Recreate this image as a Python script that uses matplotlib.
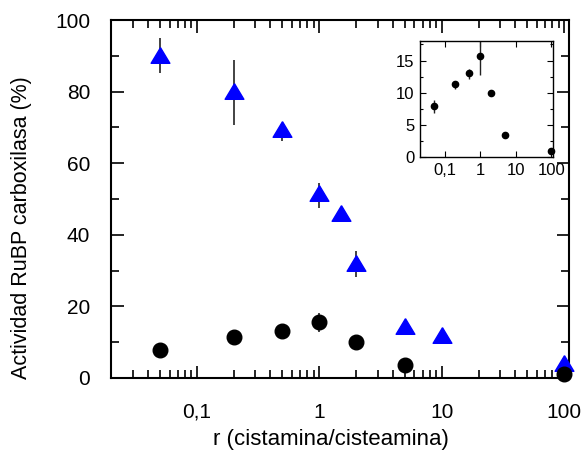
import numpy as np
import matplotlib
matplotlib.use("Agg")
import matplotlib.pyplot as plt
from matplotlib.ticker import FixedLocator, FixedFormatter, LogLocator, NullFormatter, MultipleLocator

# relación cistamina/cisteamina
r_tri = [0.05, 0.2, 0.5, 1, 1.5, 2, 5, 10, 100]
act_tri = [90.2, 80.2, 69.5, 51.6, 46.0, 32.0, 14.5, 12.0, 4.1]
err_tri_lo = [5.1, 9.5, 3.2, 4.2, 0.0, 3.9, 2.1, 0.0, 0.0]
err_tri_hi = [4.7, 8.6, 0.0, 3.0, 0.0, 3.5, 0.0, 0.0, 0.0]

r_circ = [0.05, 0.2, 0.5, 1, 2, 5, 100]
act_circ = [7.9, 11.3, 13.0, 15.7, 10.0, 3.5, 1.0]
err_circ_lo = [1.1, 0.7, 0.9, 2.9, 0.0, 0.0, 0.0]
err_circ_hi = [0.9, 0.0, 0.7, 2.3, 0.0, 0.0, 0.0]

xticks = [0.1, 1, 10, 100]
xticklabels = ["0,1", "1", "10", "100"]

plt.rcParams['font.family'] = ['Liberation Sans', 'DejaVu Sans']

# triángulo algo más ancho que alto
tri = [(0, 1), (-1.2, -1), (1.2, -1), (0, 1)]

fig = plt.figure(figsize=(5.88, 4.58), dpi=100)
ax = fig.add_axes([0.189, 0.175, 0.779, 0.781])

ax.errorbar(r_tri, act_tri, yerr=[err_tri_lo, err_tri_hi], fmt='none',
            ecolor='#222222', elinewidth=1.2, capsize=0, zorder=2)
ax.plot(r_tri, act_tri, linestyle='none', marker=tri, color='#0000ff',
        ms=13.5, mec='#0000ff', zorder=3, clip_on=False)
ax.errorbar(r_circ, act_circ, yerr=[err_circ_lo, err_circ_hi], fmt='none',
            ecolor='#222222', elinewidth=1.2, capsize=0, zorder=2)
ax.plot(r_circ, act_circ, 'o', color='black', ms=10.5, zorder=4, clip_on=False)

ax.set_xscale('log')
ax.set_xlim(0.02, 110)
ax.set_ylim(0, 100)
ax.xaxis.set_major_locator(FixedLocator(xticks))
ax.xaxis.set_major_formatter(FixedFormatter(xticklabels))
ax.xaxis.set_minor_locator(LogLocator(base=10, subs=np.arange(2, 10)))
ax.xaxis.set_minor_formatter(NullFormatter())
ax.yaxis.set_major_locator(MultipleLocator(20))
ax.yaxis.set_minor_locator(MultipleLocator(10))
ax.tick_params(which='both', direction='in', top=True, right=True,
               labelsize=15, width=1.2)
ax.tick_params(which='major', length=9)
ax.tick_params(which='minor', length=6)
ax.tick_params(axis='y', pad=15)
ax.tick_params(axis='x', pad=18)
for s in ax.spines.values():
    s.set_linewidth(1.5)
ax.set_xlabel("r (cistamina/cisteamina)", fontsize=16)
ax.set_ylabel("Actividad RuBP carboxilasa (%)", fontsize=15.5)
ax.xaxis.set_label_coords(0.48, -0.143)
ax.yaxis.set_label_coords(-0.172, 0.42)

# detalle de la serie con círculos
ins = fig.add_axes([0.714, 0.657, 0.226, 0.253])
ins.errorbar(r_circ, act_circ, yerr=[err_circ_lo, err_circ_hi], fmt='none',
             ecolor='#222222', elinewidth=1.0, capsize=0, zorder=2)
ins.plot(r_circ, act_circ, 'o', color='black', ms=4.5, zorder=3, clip_on=False)
ins.set_xscale('log')
ins.set_xlim(0.02, 110)
ins.set_ylim(0, 18)
ins.xaxis.set_major_locator(FixedLocator(xticks))
ins.xaxis.set_major_formatter(FixedFormatter(xticklabels))
ins.xaxis.set_minor_locator(LogLocator(base=10, subs=np.arange(2, 10)))
ins.xaxis.set_minor_formatter(NullFormatter())
ins.yaxis.set_major_locator(MultipleLocator(5))
ins.yaxis.set_minor_locator(MultipleLocator(2.5))
ins.tick_params(which='both', direction='in', top=True, right=True,
                labelsize=12, width=0.8, pad=4)
ins.tick_params(which='major', length=4)
ins.tick_params(which='minor', length=2)
for s in ins.spines.values():
    s.set_linewidth(1.0)

fig.savefig("out.png", dpi=100)
